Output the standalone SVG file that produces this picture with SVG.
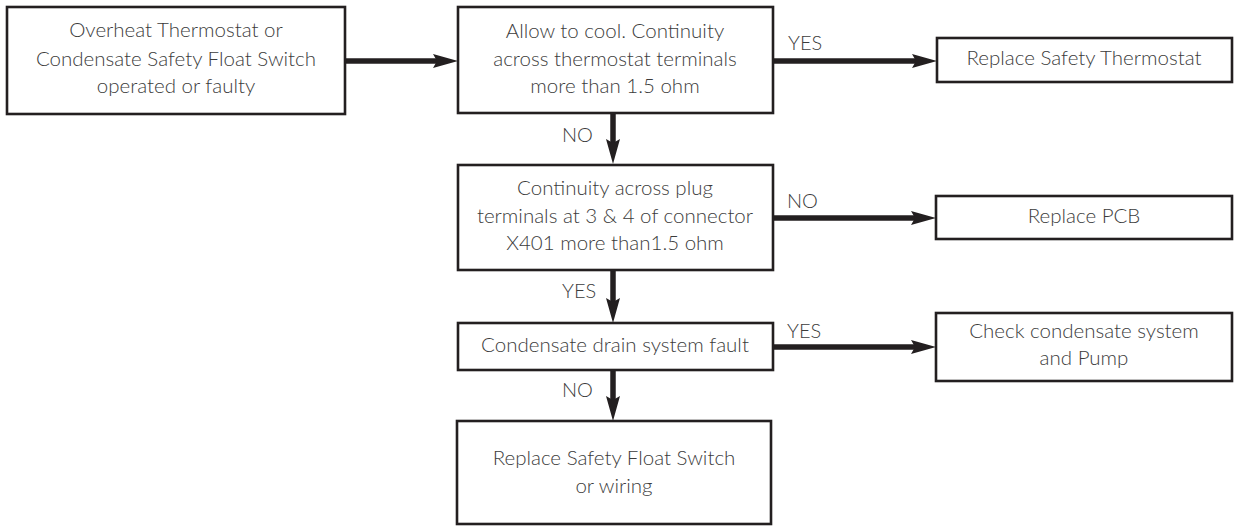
<svg xmlns="http://www.w3.org/2000/svg" width="1235" height="526" viewBox="0 0 1235 526">
<style>
.box{fill:#fff;stroke:#231f20;stroke-width:2.6}
.t{font-family:Lato,"Liberation Sans",sans-serif;font-weight:300;font-size:20.5px;fill:#3c3c3c;text-anchor:middle}
.l{font-family:Lato,"Liberation Sans",sans-serif;font-weight:300;font-size:20px;fill:#3c3c3c}
.c{stroke:#231f20;stroke-width:5.5;fill:none;marker-end:url(#ah)}
</style>
<defs>
<marker id="ah" markerUnits="userSpaceOnUse" markerWidth="26" markerHeight="16" refX="11" refY="7" orient="auto" viewBox="0 0 26 14">
<path d="M0,0 L25,7 L0,14 L4,7 z" fill="#231f20"/>
</marker>
</defs>
<rect width="1235" height="526" fill="#fff"/>
<g id="connectors">
<line class="c" x1="345" y1="61" x2="444" y2="61"/>
<line class="c" x1="773" y1="61" x2="923" y2="61"/>
<line class="c" x1="613" y1="113" x2="613" y2="150"/>
<line class="c" x1="773" y1="218" x2="922" y2="218"/>
<line class="c" x1="613" y1="270" x2="613" y2="309"/>
<line class="c" x1="773" y1="347" x2="922" y2="347"/>
<line class="c" x1="613" y1="370" x2="613" y2="407"/>
<text class="l" x="788" y="50">YES</text>
<text class="l" x="562" y="142">NO</text>
<text class="l" x="787" y="208">NO</text>
<text class="l" x="562" y="298">YES</text>
<text class="l" x="787" y="338">YES</text>
<text class="l" x="562" y="397">NO</text>
</g>
<g id="n1">
<rect class="box" x="7" y="7" width="338" height="107"/>
<text class="t" x="176" y="37">Overheat Thermostat or</text>
<text class="t" x="176" y="66">Condensate Safety Float Switch</text>
<text class="t" x="176" y="93">operated or faulty</text>
</g>
<g id="n2">
<rect class="box" x="458" y="7" width="315" height="106"/>
<text class="t" x="615" y="38">Allow to cool. Continuity</text>
<text class="t" x="615" y="66">across thermostat terminals</text>
<text class="t" x="615" y="93">more than 1.5 ohm</text>
</g>
<g id="n3">
<rect class="box" x="937" y="38" width="295" height="44"/>
<text class="t" x="1084" y="65">Replace Safety Thermostat</text>
</g>
<g id="n4">
<rect class="box" x="458" y="165" width="315" height="105"/>
<text class="t" x="615" y="195">Continuity across plug</text>
<text class="t" x="615" y="223">terminals at 3 &amp; 4 of connector</text>
<text class="t" x="615" y="250">X401 more than1.5 ohm</text>
</g>
<g id="n5">
<rect class="box" x="936" y="196" width="296" height="43"/>
<text class="t" x="1084" y="223">Replace PCB</text>
</g>
<g id="n6">
<rect class="box" x="458" y="323" width="315" height="47"/>
<text class="t" x="615" y="352">Condensate drain system fault</text>
</g>
<g id="n7">
<rect class="box" x="936" y="313" width="296" height="68"/>
<text class="t" x="1084" y="338">Check condensate system</text>
<text class="t" x="1084" y="365">and Pump</text>
</g>
<g id="n8">
<rect class="box" x="457" y="421" width="314" height="103"/>
<text class="t" x="614" y="465">Replace Safety Float Switch</text>
<text class="t" x="614" y="493">or wiring</text>
</g>
</svg>
